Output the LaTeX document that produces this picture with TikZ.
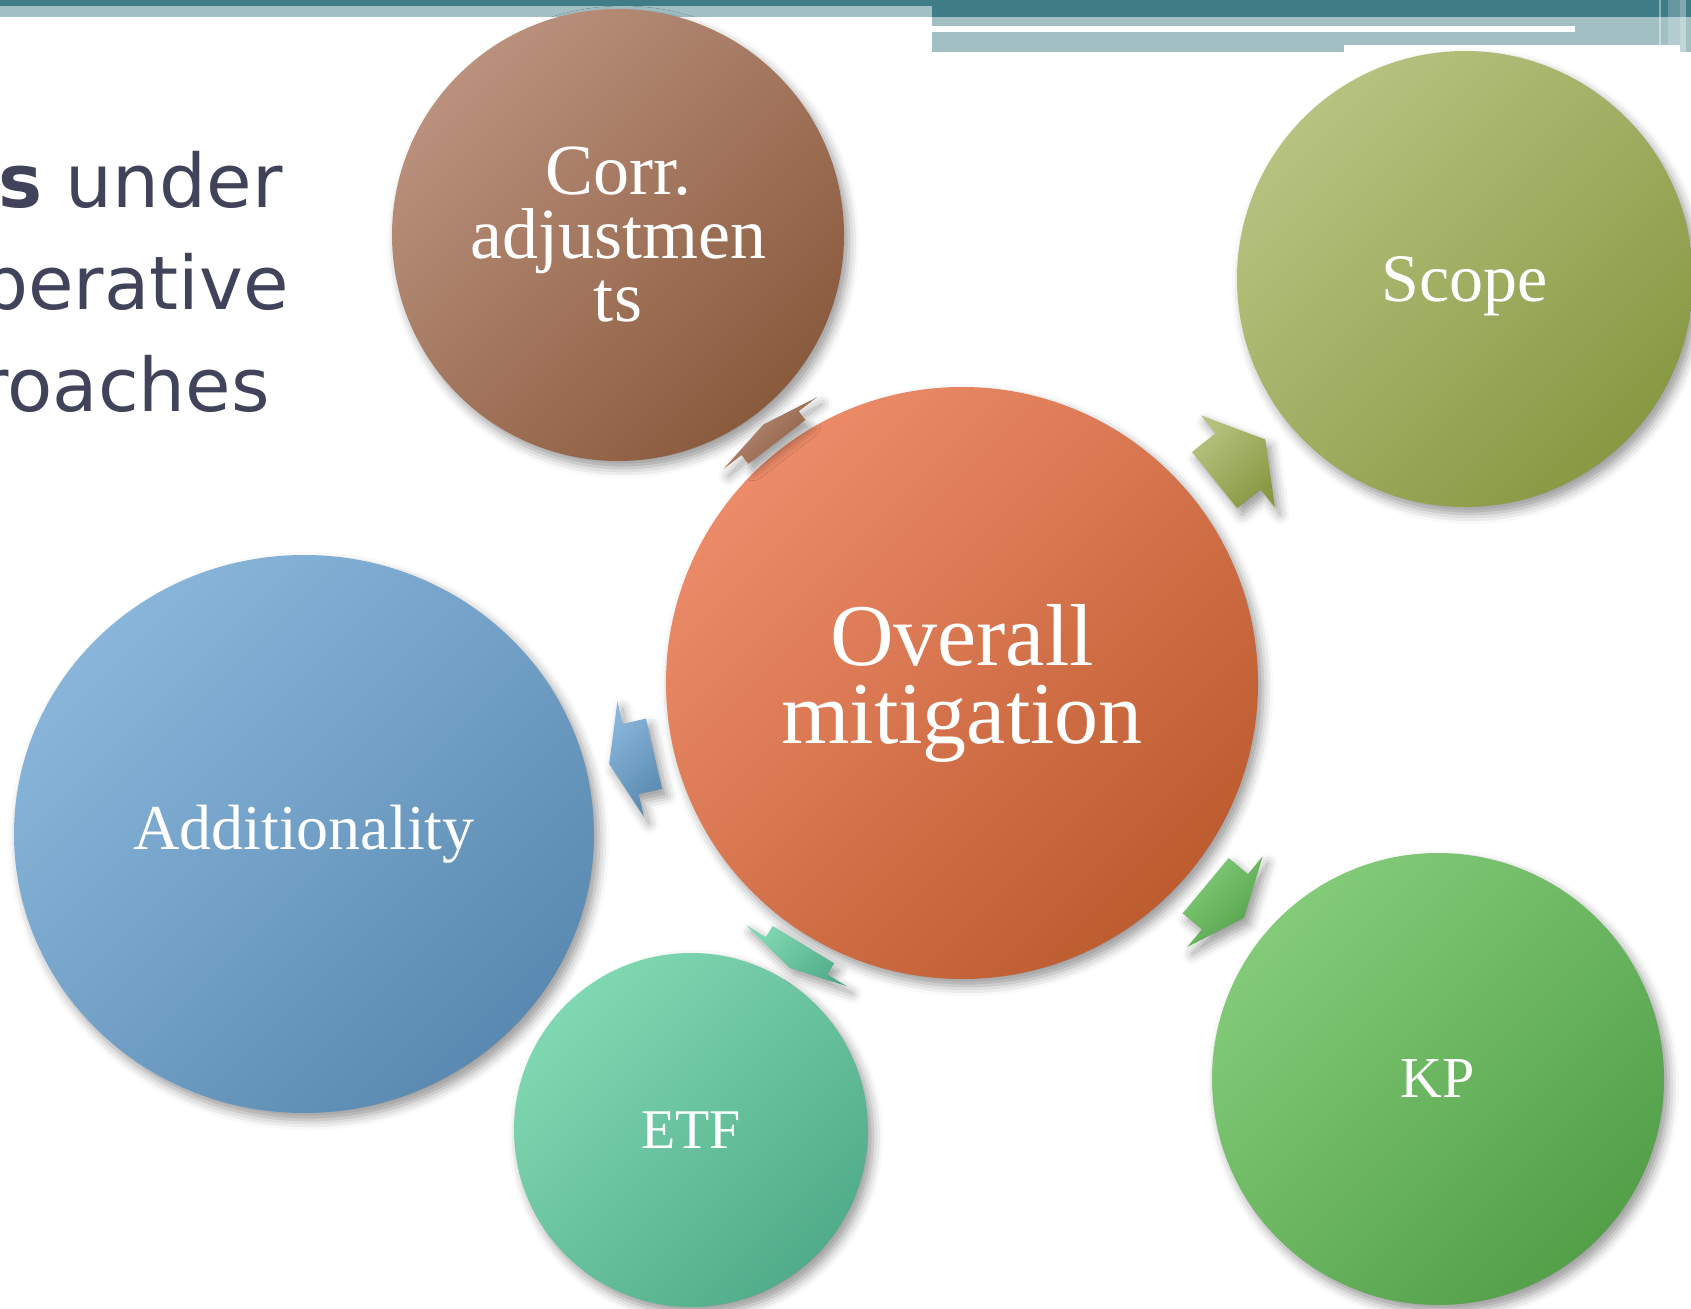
\documentclass[tikz,border=0pt]{standalone}
\usepackage{fontspec}
\setmainfont{Liberation Serif}
\newfontfamily\titlefont{DejaVu Sans}
\usetikzlibrary{calc}
\usetikzlibrary{shapes.geometric}
\usetikzlibrary{shadows.blur}

\definecolor{barDark}{HTML}{417D87}
\definecolor{barLight}{HTML}{A2C0C4}
\definecolor{titleGray}{HTML}{40435A}
\definecolor{corrL}{HTML}{BA917D}
\definecolor{corrD}{HTML}{8A5A3D}
\definecolor{scopeL}{HTML}{B6C380}
\definecolor{scopeD}{HTML}{889943}
\definecolor{overL}{HTML}{EC8B69}
\definecolor{overD}{HTML}{BD5C2F}
\definecolor{addL}{HTML}{89B5DA}
\definecolor{addD}{HTML}{5A8AB1}
\definecolor{etfL}{HTML}{80D8B2}
\definecolor{etfD}{HTML}{51AC89}
\definecolor{kpL}{HTML}{83CB79}
\definecolor{kpD}{HTML}{53A049}

\begin{document}
\begin{tikzpicture}[x=0.5pt,y=-0.5pt,
    softshadow/.style={blur shadow={shadow xshift=2.5pt, shadow yshift=-3.5pt, shadow blur radius=5pt, shadow opacity=40}},
    bubble/.style 2 args={circle, inner sep=0pt, text=white, align=center, top color=#1, bottom color=#2, shading angle=45, softshadow},
    titleline/.style={anchor=base east, inner sep=0pt, text=titleGray, font=\titlefont\fontsize{37}{44}\selectfont},
  ]
  \useasboundingbox (0,0) rectangle (1691,1309);

  \fill[barDark] (0,0) rectangle (932,6);
  \fill[barLight] (0,6) rectangle (932,16.7);
  \fill[barDark] (932,0) rectangle (1691,16.7);
  \fill[barLight] (932,16.7) rectangle (1691,45.3);
  \fill[barLight] (932,45.3) rectangle (1344,51.7);
  \fill[white] (932,26) rectangle (1575,32);
  \fill[white, opacity=0.4] (1659,0) rectangle (1661,45.3);
  \fill[white, opacity=0.2] (1668,0) rectangle (1680,45.3);
  \fill[barLight] (1680,45.3) rectangle (1691,51.7);
  \fill[white, opacity=0.35] (1680,0) rectangle (1686,51.7);

  \node[titleline] (title1) at (283,208) {\textbf{s} under};
  \node[titleline] (title2) at (289,309.5) {perative};
  \node[titleline] (title3) at (270,412) {roaches};

  \node[bubble={corrL}{corrD}, minimum size=226pt, font=\fontsize{36}{31.75}\selectfont] (corr) at (618,235) {Corr.\\adjustmen\\ts};
  \node[bubble={scopeL}{scopeD}, minimum size=228pt, font=\fontsize{34}{40}\selectfont] (scope) at (1465,279) {\raisebox{-3.5pt}[\height][\depth]{Scope}};
  \node[bubble={overL}{overD}, minimum size=296pt, font=\fontsize{44}{39}\selectfont] (over) at (962,683) {Overall\\mitigation};
  \node[bubble={addL}{addD}, ellipse, minimum width=290pt, minimum height=279pt, font=\fontsize{32}{40}\selectfont] (addit) at (304,834) {Additionality};
  \node[bubble={etfL}{etfD}, minimum size=177pt, font=\fontsize{28}{34}\selectfont] (etf) at (691,1130) {ETF};
  \node[bubble={kpL}{kpD}, minimum size=226pt, font=\fontsize{29}{34}\selectfont] (kp) at (1438,1079) {KP};

  \foreach \tgt/\cl/\cd/\dtail/\dshaft/\dtip in {corr/corrL/corrD/152/157.5/163, scope/scopeL/scopeD/162/177/194.5, kp/kpL/kpD/158.5/171/183.5, etf/etfL/etfD/153/159.5/166.5, addit/addL/addD/158/170/181}
  {
    \coordinate (at) at ($(over.center)!\dtail pt!(\tgt.center)$);
    \coordinate (as) at ($(over.center)!\dshaft pt!(\tgt.center)$);
    \coordinate (ap) at ($(over.center)!\dtip pt!(\tgt.center)$);
    \shade[top color=\cl, bottom color=\cd, shading angle=45, softshadow]
      ($(at)!18pt!90:(\tgt.center)$) -- ($(as)!18pt!90:(\tgt.center)$) -- ($(as)!29.5pt!90:(\tgt.center)$) -- (ap)
      -- ($(as)!29.5pt!-90:(\tgt.center)$) -- ($(as)!18pt!-90:(\tgt.center)$) -- ($(at)!18pt!-90:(\tgt.center)$) -- cycle;
  }
\end{tikzpicture}
\end{document}
